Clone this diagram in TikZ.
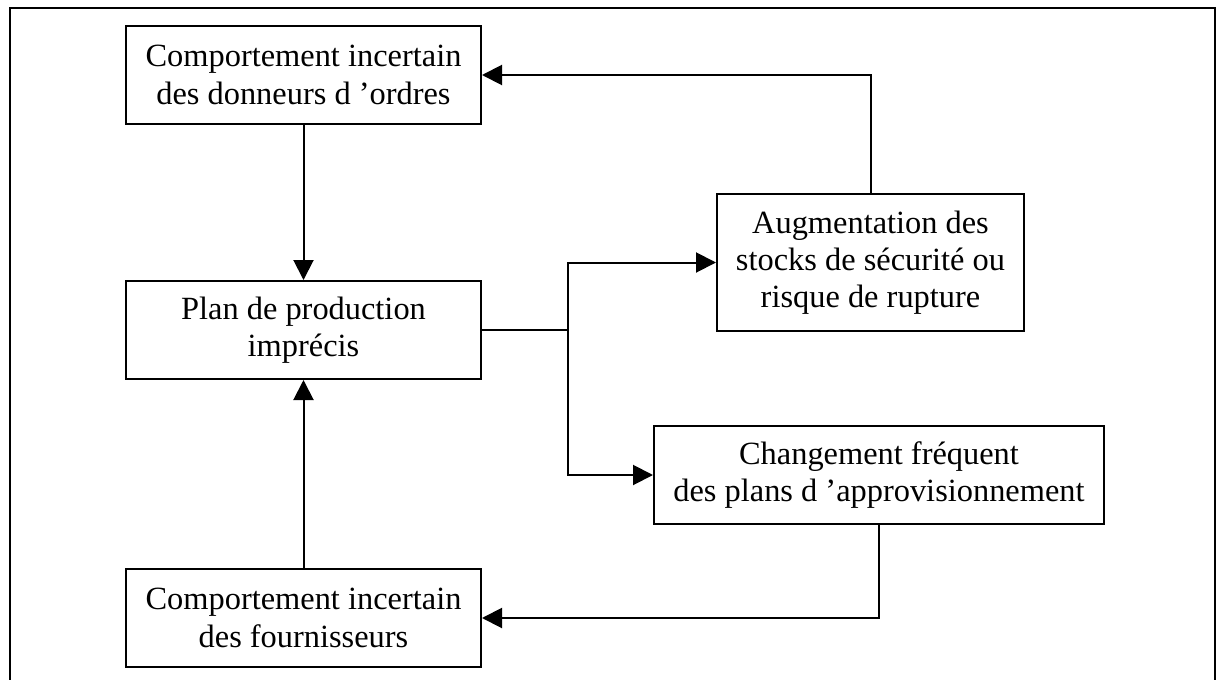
\documentclass[tikz,border=0pt]{standalone}
\usepackage{fontspec}
\setmainfont{Liberation Serif}
\usetikzlibrary{arrows.meta}

\tikzset{
  box/.style={draw, line width=1pt, inner sep=0pt, align=center,
    font=\fontsize{16.2}{18.6}\selectfont},
  arr/.style={line width=1pt, -{Triangle[length=10pt,width=10pt]}}
}

\begin{document}
\begin{tikzpicture}[x=0.5pt, y=-0.5pt]
        \useasboundingbox (0,0) rectangle (1216,680);
        \draw[line width=1pt] (10,680) -- (10,8) -- (1215,8) -- (1215,680);

        \node[box, minimum width=177.5pt, minimum height=49pt] (donneurs) at (303.5,75) {Comportement incertain\\des donneurs d ’ordres};
        \node[box, minimum width=177.5pt, minimum height=49pt] (plan) at (303.5,330) {Plan de production\\imprécis};
        \node[box, minimum width=177.5pt, minimum height=49pt] (fournisseurs) at (303.5,618) {Comportement incertain\\des fournisseurs};
        \node[box, minimum width=153.5pt, minimum height=68.5pt] (stocks) at (870.5,262.5) {Augmentation des\\stocks de sécurité ou\\risque de rupture};
        \node[box, minimum width=225pt, minimum height=49pt] (changement) at (879,475) {Changement fréquent\\des plans d ’approvisionnement};
        \coordinate (fork) at (568,330);

        \draw[arr] (donneurs) -- (plan);
        \draw[arr] (fournisseurs) -- (plan);
        \draw[line width=1pt] (plan) -- (fork);
        \draw[arr] (fork) |- (stocks);
        \draw[arr] (fork) |- (changement);
        \draw[arr] (stocks) |- (donneurs);
        \draw[arr] (changement) |- (fournisseurs);
    \end{tikzpicture}
\end{document}
